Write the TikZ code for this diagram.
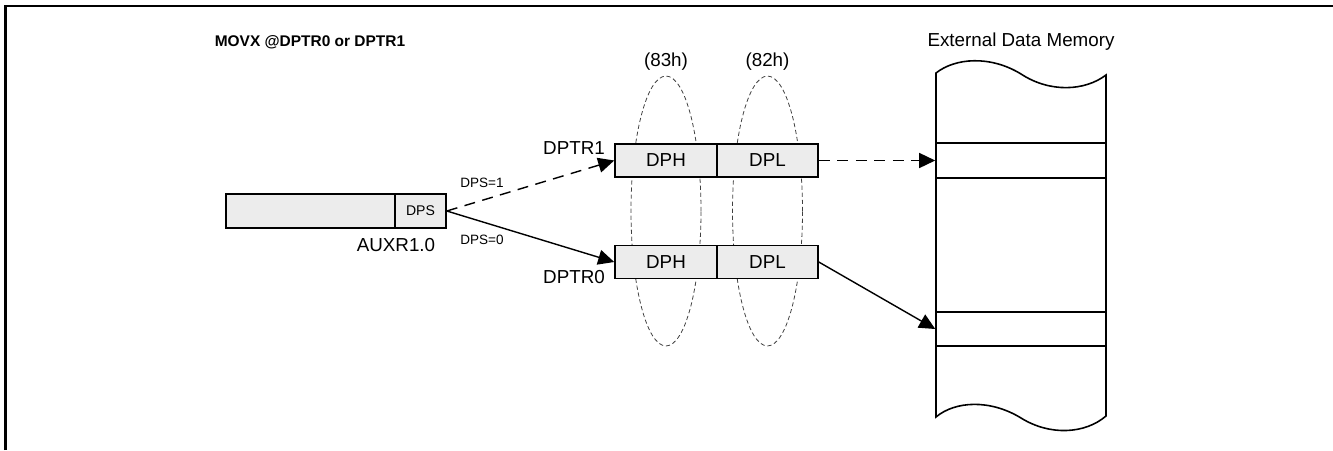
\documentclass[tikz,border=0pt]{standalone}
\usepackage{fontspec}
\setmainfont{Liberation Sans}
\usetikzlibrary{arrows.meta}

\begin{document}
\begin{tikzpicture}[x=0.02cm, y=-0.02cm,
    reg/.style={rectangle, draw, fill=gray!15, line width=0.9pt, minimum height=0.66cm, inner sep=0pt, font=\fontsize{10.7}{12}\selectfont},
    slot/.style={rectangle, draw, line width=0.9pt, minimum width=3.4cm, minimum height=0.7cm, inner sep=0pt},
    lbl/.style={inner sep=0pt, font=\fontsize{10.7}{12}\selectfont},
    smalltext/.style={inner sep=0pt, font=\fontsize{7.7}{9}\selectfont},
    link/.style={line width=0.8pt, -{Triangle[length=0.32cm, width=0.3cm]}},
    byte/.style={dash pattern=on 2.4pt off 1.6pt, line width=0.45pt, black!75}]
    \useasboundingbox (0,0) rectangle (1333,450);

    \draw[line width=1.4pt] (5.5,450) -- (5.5,6) -- (1333,6);

    \draw[byte] (666, 211) ellipse [x radius=0.7cm, y radius=2.7cm];
    \draw[byte] (767.5, 211) ellipse [x radius=0.7cm, y radius=2.7cm];

    \node[font=\bfseries\fontsize{8.8}{10}\selectfont, inner sep=0pt] at (310, 42)  (movx)  {MOVX @DPTR0 or DPTR1};
    \node[lbl] at (666, 62)    (h83)   {(83h)};
    \node[lbl] at (767.5, 62)  (h82)   {(82h)};
    \node[lbl] at (1021, 42)   (xmem)  {External Data Memory};

    \node[reg, minimum width=3.38cm, minimum height=0.68cm] at (310.5, 211)  (auxr)  {};
    \node[reg, minimum width=1.02cm, minimum height=0.68cm, font=\fontsize{8}{9}\selectfont] at (420.5, 211)  (dps)  {DPS};
    \node[lbl] at (396, 245)  (auxlbl)  {AUXR1.0};

    \node[reg, minimum width=2.04cm] at (666, 160.5)    (dph1)  {DPH};
    \node[reg, minimum width=2.02cm] at (767.5, 160.5)  (dpl1)  {DPL};
    \node[reg, minimum width=2.04cm] at (666, 262)      (dph0)  {DPH};
    \node[reg, minimum width=2.02cm] at (767.5, 262)    (dpl0)  {DPL};

    \node[lbl] at (574, 148)  (ptr1)  {DPTR1};
    \node[lbl] at (574, 277)  (ptr0)  {DPTR0};

    \draw[line width=0.9pt] (936,73) .. controls (955,58) and (990,55) .. (1021,74)
        .. controls (1050,93) and (1085,91) .. (1106,75) -- (1106,416)
        .. controls (1085,434) and (1050,436) .. (1021,418)
        .. controls (990,399) and (955,401) .. (936,417) -- cycle;
    \node[slot] at (1021, 160.5)  (mem1)  {};
    \node[slot, minimum height=0.68cm] at (1021, 329)  (mem0)  {};

    \draw[link, dash pattern=on 0.22cm off 0.15cm] (dps.east) -- node[smalltext, pos=0.21, above=7pt] {DPS=1} (dph1.west);
    \draw[link] (dps.east) -- node[smalltext, pos=0.21, below=7pt] {DPS=0} (dph0.west);

    \draw[link, dash pattern=on 0.22cm off 0.15cm] (dpl1.east) -- (mem1.west);
    \draw[link] (dpl0.east) -- (mem0.west);
  \end{tikzpicture}
\end{document}
